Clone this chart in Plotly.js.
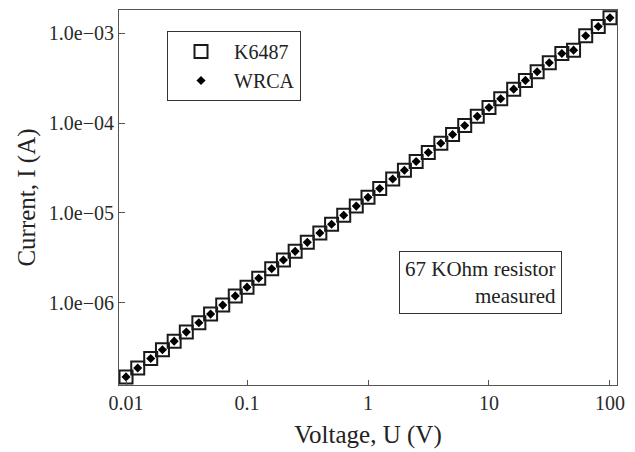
<!DOCTYPE html>
<html>
<head>
<meta charset="utf-8">
<script src="https://cdn.plot.ly/plotly-3.0.1.min.js"></script>
<style>
  html, body { margin: 0; padding: 0; background: #fff; }
  #chart { width: 635px; height: 452px; }
</style>
</head>
<body>
<div id="chart"></div>
<script>
// Voltage (V) applied across the resistor
const voltage = [
  0.01, 0.0125, 0.016, 0.02, 0.025, 0.0315, 0.04, 0.05, 0.063, 0.08,
  0.1, 0.125, 0.16, 0.2, 0.25, 0.315, 0.4, 0.5, 0.63, 0.8,
  1, 1.25, 1.6, 2, 2.5, 3.15, 4, 5, 6.3, 8,
  10, 12.5, 16, 20, 25, 31.5, 40, 50, 63, 80, 100
];
// Current measured by the Keithley 6487 (A)
const currentK6487 = [
  1.49e-7, 1.87e-7, 2.39e-7, 2.99e-7, 3.73e-7, 4.70e-7, 5.97e-7, 7.46e-7, 9.40e-7, 1.19e-6,
  1.49e-6, 1.87e-6, 2.39e-6, 2.99e-6, 3.73e-6, 4.70e-6, 5.97e-6, 7.46e-6, 9.40e-6, 1.19e-5,
  1.49e-5, 1.87e-5, 2.39e-5, 2.99e-5, 3.73e-5, 4.70e-5, 5.97e-5, 7.46e-5, 9.40e-5, 1.19e-4,
  1.49e-4, 1.87e-4, 2.39e-4, 2.99e-4, 3.73e-4, 4.70e-4, 5.97e-4, 6.50e-4, 9.40e-4, 1.19e-3, 1.49e-3
];
// Current measured by the WRCA (A)
const currentWRCA = [
  1.49e-7, 1.87e-7, 2.39e-7, 2.99e-7, 3.73e-7, 4.70e-7, 5.97e-7, 7.46e-7, 9.40e-7, 1.19e-6,
  1.49e-6, 1.87e-6, 2.39e-6, 2.99e-6, 3.73e-6, 4.70e-6, 5.97e-6, 7.46e-6, 9.40e-6, 1.19e-5,
  1.49e-5, 1.87e-5, 2.39e-5, 2.99e-5, 3.73e-5, 4.70e-5, 5.97e-5, 7.46e-5, 9.40e-5, 1.19e-4,
  1.49e-4, 1.87e-4, 2.39e-4, 2.99e-4, 3.73e-4, 4.70e-4, 5.97e-4, 6.50e-4, 9.40e-4, 1.19e-3, 1.49e-3
];
const xTickVals = [0.01, 0.1, 1, 10, 100];
const xTickText = ["0.01", "0.1", "1", "10", "100"];
const yTickVals = [1e-6, 1e-5, 1e-4, 1e-3];
const yTickText = ["1.0e\u221206", "1.0e\u221205", "1.0e\u221204", "1.0e\u221203"];

const FONT = "Liberation Serif, Times New Roman, serif";

const traces = [
  {
    x: voltage, y: currentK6487, name: "K6487", type: "scatter", mode: "markers",
    marker: { symbol: "square-open", size: 13, color: "#1a1a1a", line: { width: 2, color: "#1a1a1a" } }
  },
  {
    x: voltage, y: currentWRCA, name: "WRCA", type: "scatter", mode: "markers",
    marker: { symbol: "diamond", size: 7, color: "#000" }
  }
];

const axisCommon = {
  type: "log",
  showgrid: false,
  zeroline: false,
  showline: true,
  linecolor: "#555",
  linewidth: 1,
  mirror: true,
  ticks: "inside",
  ticklen: 6,
  tickwidth: 1,
  tickcolor: "#555",
  tickmode: "array",
  tickfont: { family: FONT, size: 20, color: "#2a2a2a" }
};

const layout = {
  width: 635, height: 452,
  margin: { l: 119, r: 18, t: 10, b: 67 },
  paper_bgcolor: "#fff", plot_bgcolor: "#fff",
  showlegend: true,
  font: { family: FONT, color: "#222" },
  xaxis: Object.assign({}, axisCommon, {
    range: [-2.058, 2.058],
    tickvals: xTickVals, ticktext: xTickText,
    ticklen: 5,
    title: { text: "Voltage, U (V)", font: { family: FONT, size: 25, color: "#222" }, standoff: 12 }
  }),
  yaxis: Object.assign({}, axisCommon, {
    range: [-6.917, -2.74],
    tickvals: yTickVals, ticktext: yTickText,
    title: { text: "Current, I (A)", font: { family: FONT, size: 25, color: "#222" }, standoff: 6 }
  }),
  legend: {
    x: 0.0964, y: 0.944, xanchor: "left", yanchor: "top",
    bordercolor: "#333", borderwidth: 1, bgcolor: "#fff",
    font: { family: FONT, size: 20, color: "#222" },
    itemwidth: 56
  },
  annotations: [{
    xref: "paper", yref: "paper", x: 0.726, y: 0.273,
    xanchor: "center", yanchor: "middle",
    text: "67 KOhm resistor<br>measured", align: "right", showarrow: false,
    font: { family: FONT, size: 21, color: "#222" },
    bordercolor: "#333", borderwidth: 1, borderpad: 5, bgcolor: "#fff"
  }]
};

Plotly.newPlot("chart", traces, layout, { displayModeBar: false, staticPlot: true });
</script>
</body>
</html>
